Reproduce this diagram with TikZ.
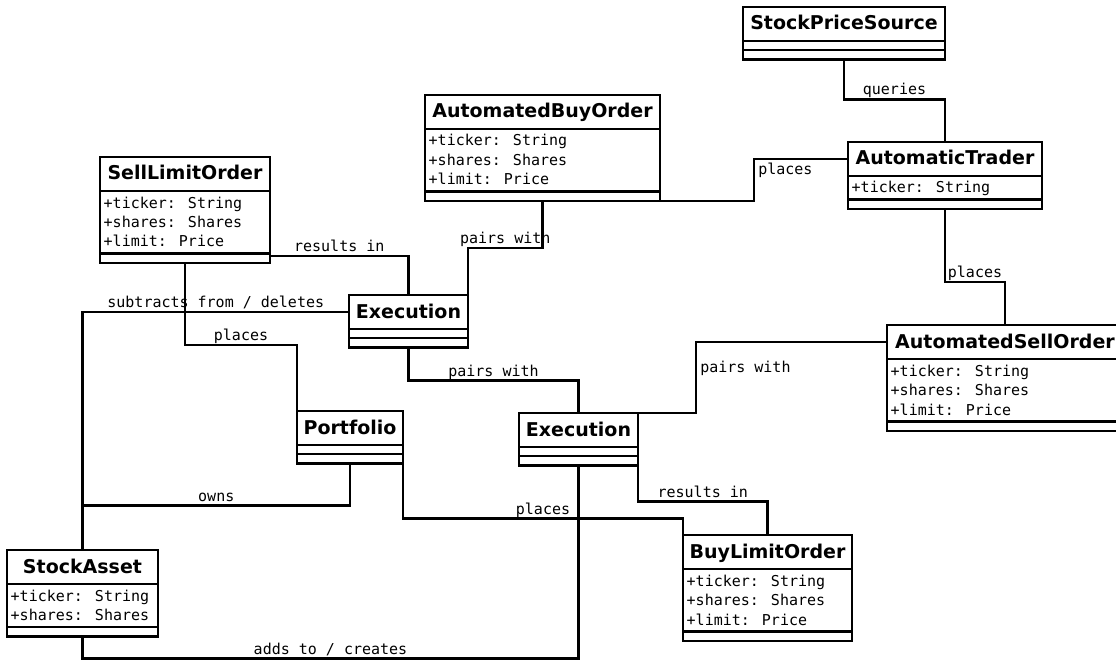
\documentclass[tikz,border=0pt]{standalone}
\usepackage{fontspec}
\setmainfont{DejaVu Sans}
\newfontfamily\umlmono{DejaVu Sans Mono}
\usetikzlibrary{calc}

\tikzset{
  classframe/.style={draw, line width=2.5pt, inner sep=0pt, outer sep=0pt, fill=white},
  classrule/.style={line width=2.5pt},
  classtitle/.style={font=\fontsize{19}{22}\selectfont\bfseries, anchor=base, inner sep=0pt},
  classattr/.style={font=\umlmono\fontsize{15}{19.5}\selectfont, anchor=base west, inner sep=0pt},
  assoc/.style={line width=2.5pt},
  hlabel/.style={font=\umlmono\fontsize{15}{19.5}\selectfont, anchor=base, inner sep=0pt, yshift=4.5pt},
  vlabel/.style={font=\umlmono\fontsize{15}{19.5}\selectfont, anchor=base west, inner sep=0pt, xshift=3pt, yshift=5pt},
}

% UML class box: name, left, top, width, title, number of attributes, attribute list
\newcommand{\umlclass}[7]{%
  \pgfmathsetmacro\attrheight{#6==0 ? 9 : 4+19.5*#6}%
  \pgfmathsetmacro\boxheight{34+\attrheight+9.5}%
  \node[classframe, minimum width=#4, minimum height=\boxheight, anchor=north west] (#1) at (#2,#3) {};
  \node[classtitle] at ($(#1.north)+(0,23)$) {#5};
  \draw[classrule] ($(#1.north west)+(0,34)$) -- ($(#1.north east)+(0,34)$);
  \draw[classrule] ($(#1.south west)+(0,-9.5)$) -- ($(#1.south east)+(0,-9.5)$);
  \ifnum#6>0
    \foreach \attrline [count=\k] in {#7}
      \node[classattr] at ($(#1.north west)+(3.5,{34+17+19.5*(\k-1)})$) {\attrline};
  \fi
}

\begin{document}
\begin{tikzpicture}[x=1pt, y=-1pt]
  \fill[white] (0,0) rectangle (1116,663);
  \path[use as bounding box, clip] (0,0) rectangle (1116,663);

  % classes
  \umlclass{sps}{743}{7}{202}{StockPriceSource}{0}{}
  \umlclass{at}{848}{142}{194}{AutomaticTrader}{1}{+ticker: String}
  \umlclass{abo}{425}{95}{235}{AutomatedBuyOrder}{3}{+ticker: String,+shares: Shares,+limit: Price}
  \umlclass{slo}{100}{157}{170}{SellLimitOrder}{3}{+ticker: String,+shares: Shares,+limit: Price}
  \umlclass{exa}{349}{295}{119}{Execution}{0}{}
  \umlclass{exb}{519}{413}{119}{Execution}{0}{}
  \umlclass{pf}{297}{411}{106}{Portfolio}{0}{}
  \umlclass{aso}{887}{325}{236}{AutomatedSellOrder}{3}{+ticker: String,+shares: Shares,+limit: Price}
  \umlclass{sa}{7}{550}{151}{StockAsset}{2}{+ticker: String,+shares: Shares}
  \umlclass{blo}{683}{535}{169}{BuyLimitOrder}{3}{+ticker: String,+shares: Shares,+limit: Price}

  % associations
  \draw[assoc] (sps.south) -- ++(0,40) -| node[pos=.25,hlabel]{queries} (at.north);
  \draw[assoc] ($(at.north west)+(0,17)$) -- ++(-94,0) |- node[pos=.25,vlabel]{places} (abo.south east);
  \draw[assoc] (at.south) -- ++(0,73) -| node[pos=.25,hlabel]{places} (aso.north);
  \draw[assoc] (abo.south) -- ++(0,47) -| node[pos=.25,hlabel]{pairs with} (exa.north east);
  \draw[assoc] ($(slo.south east)+(0,-7)$) -| node[pos=.25,hlabel]{results in} (exa.north);
  \draw[assoc] (slo.south) -- ++(0,82) -| node[pos=.25,hlabel]{places} (pf.north west);
  \draw[assoc] ($(exa.north west)+(0,17)$) -| node[pos=.25,hlabel]{subtracts from / deletes} (sa.north);
  \draw[assoc] (exa.south) -- ++(0,33) -| node[pos=.25,hlabel]{pairs with} (exb.north);
  \draw[assoc] ($(aso.north west)+(0,17)$) -- ++(-191,0) |- node[pos=.25,vlabel]{pairs with} (exb.north east);
  \draw[assoc] (pf.south) -- ++(0,42) -| node[pos=.25,hlabel]{owns} (sa.north);
  \draw[assoc] (pf.south east) -- ++(0,55) -| node[pos=.25,hlabel]{places} (blo.north west);
  \draw[assoc] (exb.south east) -- ++(0,36) -| node[pos=.25,hlabel]{results in} (blo.north);
  \draw[assoc] (exb.south) -- ++(0,193) -| node[pos=.25,hlabel]{adds to / creates} (sa.south);
\end{tikzpicture}
\end{document}
